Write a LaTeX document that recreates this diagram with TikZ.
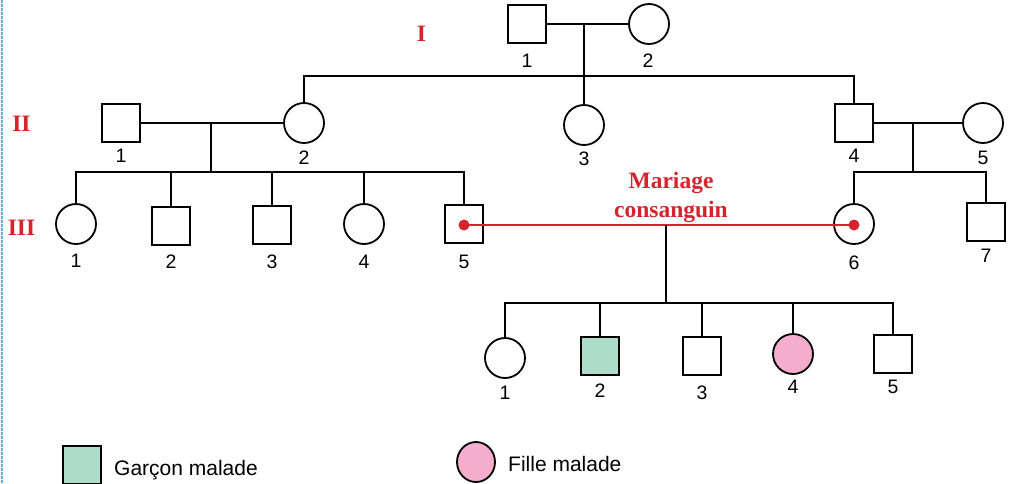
\documentclass[tikz,border=0pt]{standalone}
\usepackage{fontspec}
\usetikzlibrary{shapes.geometric}
\setmainfont{Liberation Serif}
\newfontfamily\arialf{Liberation Sans}
\definecolor{redg}{RGB}{213,36,45}
\definecolor{sick}{RGB}{174,222,202}
\definecolor{pinkg}{RGB}{245,172,205}
\definecolor{blueb}{RGB}{100,170,215}
\begin{document}
\begin{tikzpicture}[x=1pt,y=-1pt,
  ln/.style={line width=1.8pt, draw=black},
  sq/.style={rectangle, draw, line width=1.8pt, minimum size=38pt, inner sep=0pt, fill=white},
  ci/.style={circle, draw, line width=1.8pt, minimum size=40pt, inner sep=0pt, fill=white},
  num/.style={font=\arialf\fontsize{19.5}{22}\selectfont, inner sep=0pt},
  gen/.style={font=\bfseries\fontsize{23.5}{28}\selectfont, text=redg, inner sep=0pt, anchor=base},
  leg/.style={font=\arialf\fontsize{21}{25}\selectfont, inner sep=0pt, anchor=base west},
  dot/.style={circle, fill=redg, minimum size=11pt, inner sep=0pt}]
\useasboundingbox (0,0) rectangle (1014,483);
% left dotted border
\coordinate (bt) at (1.5,0);
\coordinate (bb) at (1.5,483);
\draw[blueb, line width=2pt, dash pattern=on 2.5pt off 1.5pt] (bt) -- (bb);

% generation labels
\node[gen] (gI) at (421.5,41) {I};
\node[gen] (gII) at (21.5,131.5) {II};
\node[gen] (gIII) at (21.5,235) {III};

% Generation I
\node[sq] (I1) at (527,24) {};
\node[ci] (I2) at (649,24) {};
\node[num] (lI1) at (527,60.5) {1};
\node[num] (lI2) at (648,60.5) {2};
\draw[ln] (I1) -- (I2);
\coordinate (m1) at (584,24);
\coordinate (s1) at (584,76);

% Generation II
\node[sq] (II1) at (121,123) {};
\node[ci] (II2) at (304,123) {};
\node[ci] (II3) at (584,125) {};
\node[sq] (II4) at (854,123) {};
\node[ci] (II5) at (983,123) {};
\node[num] (lII1) at (121,156) {1};
\node[num] (lII2) at (304,158) {2};
\node[num] (lII3) at (584,159) {3};
\node[num] (lII4) at (854,156) {4};
\node[num] (lII5) at (983,158) {5};
\draw[ln] (m1) -- (II3);
\draw[ln] (II2.north) -- (II2.north |- s1) -- (II4.north |- s1) -- (II4.north);
\draw[ln] (II1) -- (II2);
\draw[ln] (II4) -- (II5);
\coordinate (m2) at (211,123);
\coordinate (s2) at (211,172);
\coordinate (m3) at (913,123);
\coordinate (s3) at (913,172);
\draw[ln] (m2) -- (s2);
\draw[ln] (m3) -- (s3);

% Generation III
\node[ci] (III1) at (76,224) {};
\node[sq] (III2) at (171,226) {};
\node[sq] (III3) at (272,225) {};
\node[ci] (III4) at (364,224) {};
\node[sq] (III5) at (464,224) {};
\node[ci] (III6) at (854,224) {};
\node[sq] (III7) at (986,222) {};
\node[num] (lIII1) at (76,261) {1};
\node[num] (lIII2) at (171,262) {2};
\node[num] (lIII3) at (272,262) {3};
\node[num] (lIII4) at (364,262) {4};
\node[num] (lIII5) at (464,262) {5};
\node[num] (lIII6) at (854,263) {6};
\node[num] (lIII7) at (986,256) {7};
\draw[ln] (III1.north) -- (III1.north |- s2) -- (III5.north |- s2) -- (III5.north);
\draw[ln] (III2.north) -- (III2.north |- s2);
\draw[ln] (III3.north) -- (III3.north |- s2);
\draw[ln] (III4.north) -- (III4.north |- s2);
\draw[ln] (III6.north) -- (III6.north |- s3) -- (III7.north |- s3) -- (III7.north);

% consanguineous marriage
\node[dot] (d5) at (464,225) {};
\node[dot] (d6) at (854,225) {};
\draw[redg, line width=1.6pt] (d5.center) -- (d6.center);
\node[gen] (mar1) at (671,188.5) {Mariage};
\node[gen] (mar2) at (671,217) {consanguin};
\coordinate (m4) at (666,225);
\coordinate (s4) at (666,303);
\draw[ln] (m4) -- (s4);

% Generation IV
\node[ci] (IV1) at (505,358) {};
\node[sq, fill=sick] (IV2) at (600,356) {};
\node[sq] (IV3) at (702,356) {};
\node[ci, fill=pinkg] (IV4) at (793,354) {};
\node[sq] (IV5) at (893,354) {};
\node[num] (lIV1) at (505,393) {1};
\node[num] (lIV2) at (600,391) {2};
\node[num] (lIV3) at (702,393) {3};
\node[num] (lIV4) at (793,387) {4};
\node[num] (lIV5) at (893,387) {5};
\draw[ln] (IV1.north) -- (IV1.north |- s4) -- (IV5.north |- s4) -- (IV5.north);
\draw[ln] (IV2.north) -- (IV2.north |- s4);
\draw[ln] (IV3.north) -- (IV3.north |- s4);
\draw[ln] (IV4.north) -- (IV4.north |- s4);

% legend
\node[sq, fill=sick] (lg1) at (82,465) {};
\node[leg] (lt1) at (114,475) {Garçon malade};
\node[ellipse, draw, line width=1.8pt, fill=pinkg, minimum width=38pt, minimum height=40pt, inner sep=0pt] (lg2) at (476,462) {};
\node[leg] (lt2) at (508,471.5) {Fille malade};
\end{tikzpicture}
\end{document}
